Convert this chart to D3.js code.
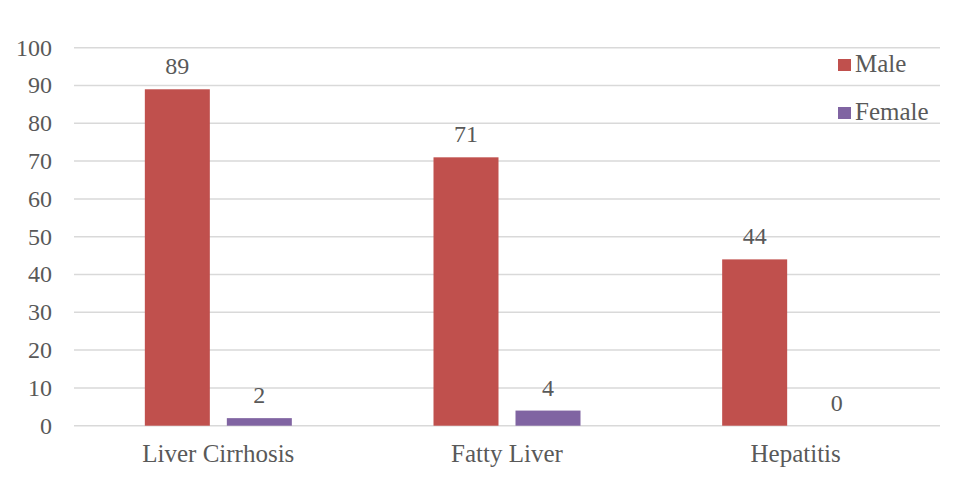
<!DOCTYPE html>
<html>
<head>
<meta charset="utf-8">
<script src="https://cdn.jsdelivr.net/npm/d3@7"></script>
<style>
  body { margin: 0; background: #fff; }
  text { font-family: "Liberation Serif", "Times New Roman", serif; fill: #595959; }
</style>
</head>
<body>
<div id="chart"></div>
<script>
// chart data
var categories = ["Liver Cirrhosis", "Fatty Liver", "Hepatitis"];
var seriesNames = ["Male", "Female"];
var maleValues = [89, 71, 44];
var femaleValues = [2, 4, 0];
var yTicks = [0, 10, 20, 30, 40, 50, 60, 70, 80, 90, 100];

var colors = ["#C0504D", "#8064A2"];
var values = [maleValues, femaleValues];

//Width and height
var w = 975;
var h = 496;
var plotLeft = 74, plotRight = 940, plotTop = 47.7, plotBottom = 425.7;

var svg = d3.select("#chart")
            .append("svg")
            .attr("width", w)
            .attr("height", h);

var y = d3.scaleLinear().domain([0, 100]).range([plotBottom, plotTop]);

var x0 = d3.scaleBand().domain(categories).range([plotLeft, plotRight]);
var groupW = 147;
var x1 = d3.scaleBand().domain(seriesNames).range([0, groupW]).paddingInner(17 / 82);

// gridlines
svg.append("g")
   .selectAll("line")
   .data(yTicks)
   .enter()
   .append("line")
   .attr("x1", plotLeft)
   .attr("x2", plotRight)
   .attr("y1", function(d) { return y(d); })
   .attr("y2", function(d) { return y(d); })
   .attr("stroke", "#d9d9d9")
   .attr("stroke-width", 1.5);

// y axis labels
svg.append("g")
   .selectAll("text")
   .data(yTicks)
   .enter()
   .append("text")
   .attr("x", 52)
   .attr("y", function(d) { return y(d); })
   .attr("dy", "0.33em")
   .attr("text-anchor", "end")
   .style("font-size", "24px")
   .text(function(d) { return d; });

// bars
var offset = (x0.bandwidth() - groupW) / 2;
seriesNames.forEach(function(s, si) {
    var g = svg.append("g");
    g.selectAll("rect")
     .data(values[si])
     .enter()
     .append("rect")
     .attr("x", function(d, i) { return x0(categories[i]) + offset + x1(s); })
     .attr("y", function(d) { return y(d); })
     .attr("width", x1.bandwidth())
     .attr("height", function(d) { return y(0) - y(d); })
     .attr("fill", colors[si]);

    g.selectAll("text")
     .data(values[si])
     .enter()
     .append("text")
     .attr("x", function(d, i) { return x0(categories[i]) + offset + x1(s) + x1.bandwidth() / 2; })
     .attr("y", function(d) { return y(d) - 15; })
     .attr("text-anchor", "middle")
     .style("font-size", "24px")
     .text(function(d) { return d; });
});

// category labels
svg.append("g")
   .selectAll("text")
   .data(categories)
   .enter()
   .append("text")
   .attr("x", function(d) { return x0(d) + x0.bandwidth() / 2; })
   .attr("y", 462)
   .attr("text-anchor", "middle")
   .style("font-size", "25px")
   .text(function(d) { return d; });

// legend
var legend = svg.append("g")
   .selectAll("g")
   .data(seriesNames)
   .enter()
   .append("g")
   .attr("transform", function(d, i) { return "translate(838," + (59 + i * 48) + ")"; });

legend.append("rect")
   .attr("width", 13)
   .attr("height", 12)
   .attr("fill", function(d, i) { return colors[i]; });

legend.append("text")
   .attr("x", 17)
   .attr("y", 13)
   .style("font-size", "25px")
   .text(function(d) { return d; });
</script>
</body>
</html>
